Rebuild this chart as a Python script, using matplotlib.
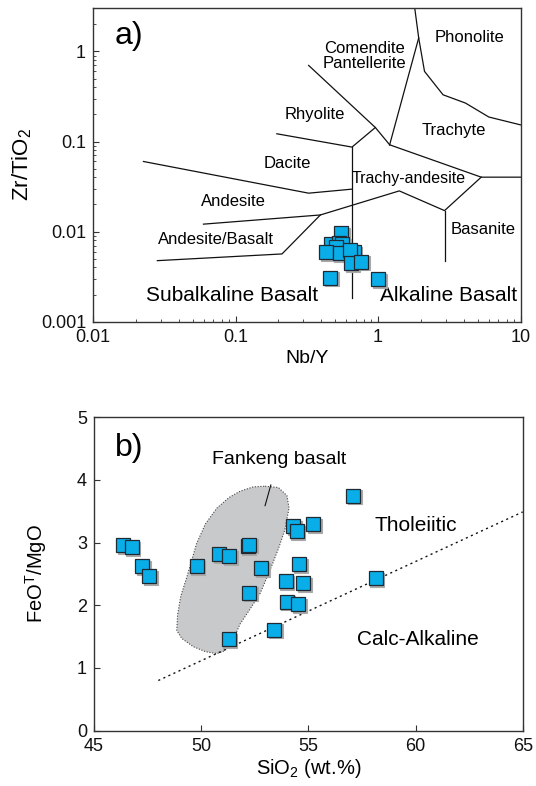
import matplotlib
matplotlib.use("Agg")
import matplotlib.pyplot as plt
import matplotlib.transforms as mtransforms
from matplotlib.ticker import FixedLocator, FixedFormatter, LogLocator, NullFormatter
from matplotlib.patches import Polygon

plt.rcParams["font.family"] = ["Liberation Sans", "DejaVu Sans"]
plt.rcParams["mathtext.fontset"] = "custom"
plt.rcParams["mathtext.rm"] = "Liberation Sans"
plt.rcParams["mathtext.it"] = "Liberation Sans:italic"

# ---- panel a data: Zr/TiO2 vs Nb/Y (Winchester & Floyd) ----
nb_y = [0.553, 0.468, 0.529, 0.559, 0.510, 0.434, 0.538, 0.674, 0.639,
        0.650, 0.760, 0.462, 1.00]
zr_ti = [0.0096, 0.0073, 0.00742, 0.0073, 0.00676, 0.0059, 0.00575, 0.0059,
         0.00626, 0.00446, 0.00464, 0.00308, 0.00298]

# field boundaries (Nb/Y, Zr/TiO2)
bounds_a = [
    [(1.81, 3.03), (1.93, 1.41), (2.12, 0.60), (2.86, 0.33), (4.11, 0.267),
     (5.99, 0.187), (10, 0.153)],
    [(1.93, 1.41), (1.207, 0.0919)],
    [(0.326, 0.699), (0.958, 0.143), (1.207, 0.0919)],
    [(0.195, 0.1218), (0.657, 0.0867), (0.958, 0.143)],
    [(0.657, 0.0867), (0.657, 0.00182)],
    [(1.207, 0.0919), (5.30, 0.0402), (10, 0.0402)],
    [(0.0226, 0.060), (0.326, 0.0267), (0.657, 0.0296)],
    [(0.0596, 0.0121), (0.394, 0.0153), (1.41, 0.0283), (2.93, 0.0171),
     (5.30, 0.0402)],
    [(2.93, 0.0171), (2.93, 0.00476)],
    [(0.0283, 0.00476), (0.212, 0.00565), (0.394, 0.0153)],
]
labels_a = [
    ("Phonolite", 4.40, 1.41, 12),
    ("Comendite\nPantellerite", 0.806, 0.896, 12),
    ("Rhyolite", 0.363, 0.198, 12),
    ("Trachyte", 3.40, 0.1315, 12),
    ("Dacite", 0.23, 0.0565, 12),
    ("Trachy-andesite", 1.64, 0.0385, 11.5),
    ("Andesite", 0.0968, 0.0215, 12),
    ("Andesite/Basalt", 0.0732, 0.0081, 12),
    ("Basanite", 5.47, 0.01063, 12),
    ("Subalkaline Basalt", 0.0942, 0.00194, 15),
    ("Alkaline Basalt", 3.14, 0.00194, 15),
]

# ---- panel b data: FeOT/MgO vs SiO2 ----
sio2 = [46.37, 46.76, 47.25, 47.58, 49.79, 50.85, 51.31, 52.17, 52.23, 52.79,
        52.25, 54.30, 54.46, 55.23, 57.10, 54.58, 53.94, 54.77, 58.14, 53.99,
        54.53, 53.40, 51.28]
feo_mgo = [2.96, 2.93, 2.62, 2.46, 2.62, 2.82, 2.78, 2.94, 2.97, 2.59,
           2.20, 3.26, 3.18, 3.29, 3.75, 2.66, 2.38, 2.35, 2.43, 2.06,
           2.02, 1.61, 1.46]
divide_x = [48.0, 65.0]
divide_y = [0.80, 3.49]
fankeng = [(52.98, 3.90), (53.6, 3.88), (54.0, 3.75), (54.1, 3.55), (53.9, 3.2),
           (53.6, 2.90), (53.2, 2.55), (52.75, 2.19), (52.3, 1.95), (51.81, 1.70),
           (51.35, 1.34), (51.0, 1.26), (50.73, 1.23), (50.2, 1.26), (49.63, 1.34),
           (49.1, 1.47), (48.86, 1.60), (48.9, 1.85), (49.05, 2.15), (49.33, 2.45),
           (49.79, 2.99), (50.2, 3.30), (50.73, 3.55), (51.3, 3.72), (51.81, 3.82),
           (52.43, 3.89)]

fig = plt.figure(figsize=(5.36, 7.86), dpi=100)
ax1 = fig.add_axes([0.1735, 0.5907, 0.7976, 0.3991])
ax2 = fig.add_axes([0.1754, 0.0704, 0.7998, 0.3987])

face = "#09aee9"
edge = "#1f2a33"
shadow = "#a9a9a9"


def squares(ax, x, y):
    sh = mtransforms.offset_copy(ax.transData, fig=fig, x=1.6, y=-1.6, units="dots")
    ax.plot(x, y, "s", ms=9.6, mfc=shadow, mec=shadow, mew=0.8, ls="none",
            transform=sh, zorder=3, clip_on=False)
    ax.plot(x, y, "s", ms=9.6, mfc=face, mec=edge, mew=0.9, ls="none",
            zorder=4, clip_on=False)


# panel a
ax1.set_xscale("log")
ax1.set_yscale("log")
ax1.set_xlim(0.01, 10)
ax1.set_ylim(0.001, 3.03)
for seg in bounds_a:
    xs, ys = zip(*seg)
    ax1.plot(xs, ys, color="#111111", lw=0.9, zorder=2)
for txt, x, y, fs in labels_a:
    ax1.text(x, y, txt, fontsize=fs, ha="center", va="center", linespacing=1.0)
squares(ax1, nb_y, zr_ti)
ax1.text(0.05, 0.96, "a)", transform=ax1.transAxes, fontsize=23, ha="left", va="top")
ax1.xaxis.set_major_locator(FixedLocator([0.01, 0.1, 1, 10]))
ax1.xaxis.set_major_formatter(FixedFormatter(["0.01", "0.1", "1", "10"]))
ax1.yaxis.set_major_locator(FixedLocator([0.001, 0.01, 0.1, 1]))
ax1.yaxis.set_major_formatter(FixedFormatter(["0.001", "0.01", "0.1", "1"]))
for axis in (ax1.xaxis, ax1.yaxis):
    axis.set_minor_locator(LogLocator(base=10, subs=range(2, 10), numticks=20))
    axis.set_minor_formatter(NullFormatter())
ax1.set_xlabel("Nb/Y", fontsize=14, labelpad=3)
ax1.set_ylabel("Zr/TiO$_2$", fontsize=16, labelpad=5)

# panel b
poly = Polygon(fankeng, closed=True, facecolor="#c8c9cb", edgecolor="#444444",
               lw=0.8, ls=(0, (1, 1.5)), zorder=1)
ax2.add_patch(poly)
ax2.plot(divide_x, divide_y, color="#111111", lw=1.0, ls=(0, (1.5, 2.5)), zorder=2)
ax2.plot([53.25, 52.98], [3.92, 3.59], color="#111111", lw=0.8, zorder=2)
squares(ax2, sio2, feo_mgo)
ax2.text(53.65, 4.32, "Fankeng basalt", fontsize=14, ha="center", va="center")
ax2.text(60.03, 3.27, "Tholeiitic", fontsize=15, ha="center", va="center")
ax2.text(60.13, 1.45, "Calc-Alkaline", fontsize=15, ha="center", va="center")
ax2.text(0.05, 0.95, "b)", transform=ax2.transAxes, fontsize=23, ha="left", va="top")
ax2.set_xlim(45, 65)
ax2.set_ylim(0, 5)
ax2.set_xticks([45, 50, 55, 60, 65])
ax2.set_yticks([0, 1, 2, 3, 4, 5])
ax2.set_xlabel("SiO$_2$ (wt.%)", fontsize=14.5, labelpad=2)
ax2.set_ylabel("FeO$^\\mathrm{T}$/MgO", fontsize=14.5, labelpad=20)

for ax in (ax1, ax2):
    for sp in ax.spines.values():
        sp.set_color("#333333")
        sp.set_linewidth(1.0)
    ax.tick_params(which="major", direction="in", length=4, width=0.8,
                   labelsize=13, top=False, right=False, colors="#333333",
                   labelcolor="#111111", pad=5)
    ax.tick_params(which="minor", direction="in", length=2.5, width=0.6,
                   top=False, right=False, colors="#333333")

fig.savefig("out.png", dpi=100)
